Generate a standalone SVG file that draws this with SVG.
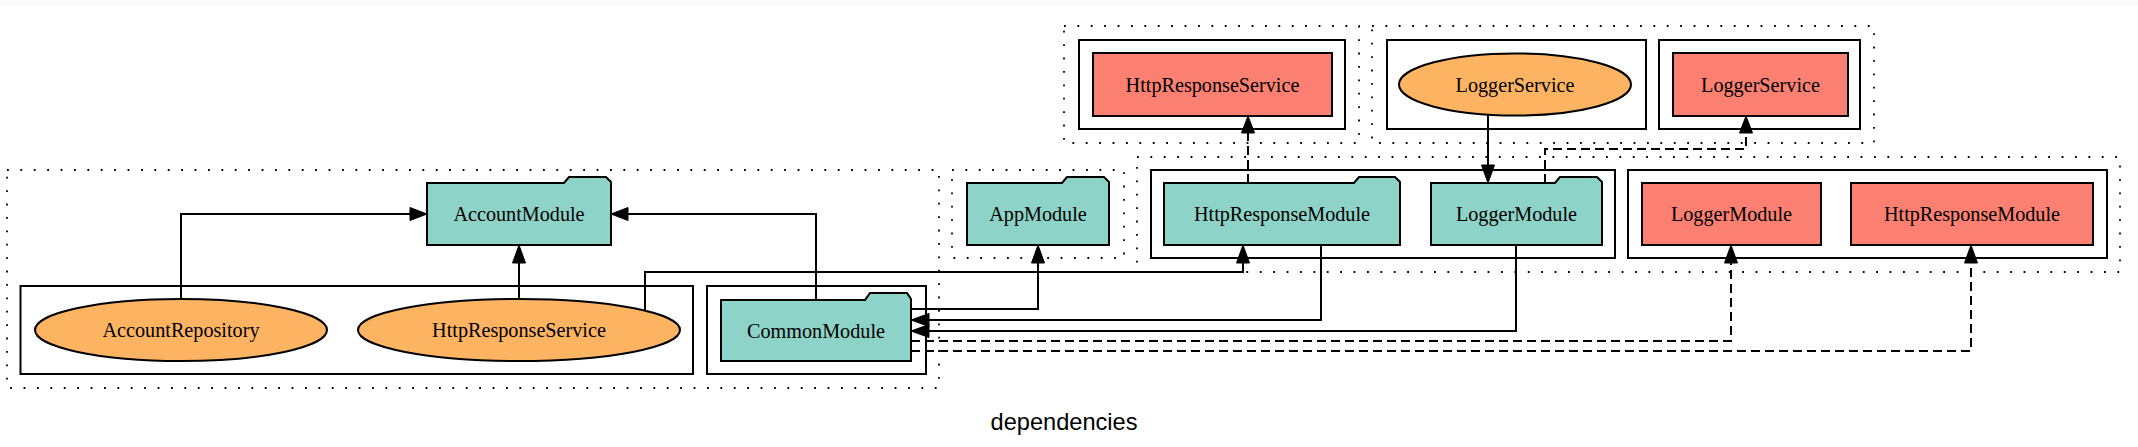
<svg xmlns="http://www.w3.org/2000/svg" width="2138" height="447" viewBox="0 0 2138 447">
<style>
.dot{fill:none;stroke:#000;stroke-width:1.8;stroke-dasharray:1.8,11.6}
.sol{fill:none;stroke:#000;stroke-width:2}
.mod{fill:#8dd3c7;stroke:#000;stroke-width:2}
.red{fill:#fb8072;stroke:#000;stroke-width:2}
.svc{fill:#fdb462;stroke:#000;stroke-width:2}
.lbl{font-family:"Liberation Serif","Times New Roman",serif;font-size:20.2px;text-anchor:middle;fill:#000}
.e{fill:none;stroke:#000;stroke-width:2}
.d{fill:none;stroke:#000;stroke-width:2;stroke-dasharray:9,5}
.ah{fill:#000;stroke:#000;stroke-width:1}
.title{font-family:"Liberation Sans",Arial,sans-serif;font-size:23.6px;text-anchor:middle;fill:#000}
</style>
<rect x="0" y="0" width="2138" height="447" fill="#fff"/>
<rect x="0" y="0" width="2138" height="6" fill="#fafafa"/>
<g id="clusters">
<rect class="dot" x="7" y="170" width="932" height="218"/>
<rect class="sol" x="20.5" y="286" width="672.5" height="88"/>
<rect class="sol" x="707" y="286" width="219" height="88"/>
<rect class="dot" x="952" y="170" width="172" height="88"/>
<rect class="dot" x="1137" y="157" width="983" height="115"/>
<rect class="sol" x="1151" y="170" width="464" height="88"/>
<rect class="sol" x="1628" y="170" width="479" height="88"/>
<rect class="dot" x="1064" y="26" width="295" height="117"/>
<rect class="sol" x="1079" y="40" width="266" height="89"/>
<rect class="dot" x="1372" y="26" width="502" height="117"/>
<rect class="sol" x="1387" y="40" width="259" height="89"/>
<rect class="sol" x="1659" y="40" width="201" height="89"/>
</g>
<g id="connectors">
<path class="e" d="M181,299 V214 H410"/>
<polygon class="ah" points="427,214 410,207.5 410,220.5"/>
<path class="e" d="M519,299 V263"/>
<polygon class="ah" points="519,245 512.5,263 525.5,263"/>
<path class="e" d="M816,300 V214 H628"/>
<polygon class="ah" points="611,214 628,207.5 628,220.5"/>
<path class="e" d="M645,310 V272 H1243 V263"/>
<polygon class="ah" points="1243,245 1236.5,263 1249.5,263"/>
<path class="e" d="M911,309 H1038 V263"/>
<polygon class="ah" points="1038,245 1031.5,263 1044.5,263"/>
<path class="e" d="M1321,245 V320 H929"/>
<polygon class="ah" points="911,320 929,313.5 929,326.5"/>
<path class="e" d="M1516,245 V331 H929"/>
<polygon class="ah" points="911,331 929,324.5 929,337.5"/>
<path class="d" d="M911,341 H1731 V263"/>
<polygon class="ah" points="1731,245 1724.5,263 1737.5,263"/>
<path class="d" d="M911,351 H1971 V263"/>
<polygon class="ah" points="1971,245 1964.5,263 1977.5,263"/>
<path class="e" d="M1488,115 V165"/>
<polygon class="ah" points="1488,183 1481.5,165 1494.5,165"/>
<path class="d" d="M1248,183 V133"/>
<polygon class="ah" points="1248,116 1241.5,133 1254.5,133"/>
<path class="d" d="M1545,183 V149 H1746 V133"/>
<polygon class="ah" points="1746,116 1739.5,133 1752.5,133"/>
</g>
<g id="AccountModule">
<path class="mod" d="M427,245 V183 H564 L569,177 H606 L611,182 V245 Z"/>
<text class="lbl" x="519" y="221">AccountModule</text>
</g>
<g id="AppModule">
<path class="mod" d="M967,245 V183 H1062 L1067,177 H1104 L1109,182 V245 Z"/>
<text class="lbl" x="1038" y="221">AppModule</text>
</g>
<g id="CommonModule">
<path class="mod" d="M721,361 V300 H865 L870,293 H907 L911,299 V361 Z"/>
<text class="lbl" x="816" y="338">CommonModule</text>
</g>
<g id="HttpResponseModuleGreen">
<path class="mod" d="M1164,245 V183 H1354 L1359,177 H1395 L1400,182 V245 Z"/>
<text class="lbl" x="1282" y="221">HttpResponseModule</text>
</g>
<g id="LoggerModuleGreen">
<path class="mod" d="M1431,245 V183 H1555 L1560,177 H1597 L1602,182 V245 Z"/>
<text class="lbl" x="1516.5" y="221">LoggerModule</text>
</g>
<g id="LoggerModuleRed">
<rect class="red" x="1642" y="183" width="179" height="62"/>
<text class="lbl" x="1731.5" y="221">LoggerModule</text>
</g>
<g id="HttpResponseModuleRed">
<rect class="red" x="1851" y="183" width="242" height="62"/>
<text class="lbl" x="1972" y="221">HttpResponseModule</text>
</g>
<g id="HttpResponseServiceRed">
<rect class="red" x="1093" y="53" width="239" height="63"/>
<text class="lbl" x="1212.5" y="92">HttpResponseService</text>
</g>
<g id="LoggerServiceRed">
<rect class="red" x="1673" y="53" width="175" height="63"/>
<text class="lbl" x="1760.5" y="92">LoggerService</text>
</g>
<g id="LoggerService">
<ellipse class="svc" cx="1515" cy="84.5" rx="116" ry="31"/>
<text class="lbl" x="1515" y="91.5">LoggerService</text>
</g>
<g id="AccountRepository">
<ellipse class="svc" cx="181" cy="330" rx="146" ry="31"/>
<text class="lbl" x="181" y="337">AccountRepository</text>
</g>
<g id="HttpResponseService">
<ellipse class="svc" cx="519" cy="330" rx="161" ry="31"/>
<text class="lbl" x="519" y="337">HttpResponseService</text>
</g>
<text class="title" x="1064" y="430">dependencies</text>
</svg>
